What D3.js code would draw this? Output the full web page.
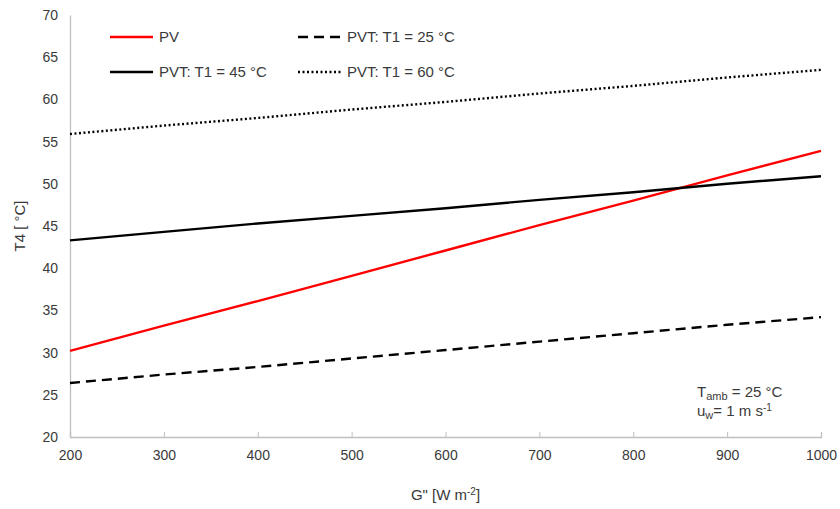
<!DOCTYPE html>
<html>
<head>
<meta charset="utf-8">
<script src="https://cdn.jsdelivr.net/npm/d3@7"></script>
<style>
  body { margin: 0; background: #fff; }
  svg text { font-family: "Liberation Sans", Arial, sans-serif; fill: #3a3a3a; }
</style>
</head>
<body>
<div id="chart"></div>
<script>
// data
const irradiance = [200, 300, 400, 500, 600, 700, 800, 900, 1000];
const pv = [30.2, 33.2, 36.1, 39.1, 42.1, 45.1, 48.0, 51.0, 53.9];
const pvt25 = [26.4, 27.4, 28.3, 29.3, 30.3, 31.3, 32.3, 33.3, 34.2];
const pvt45 = [43.3, 44.3, 45.3, 46.2, 47.1, 48.1, 49.0, 50.0, 50.9];
const pvt60 = [55.9, 56.9, 57.8, 58.8, 59.7, 60.7, 61.6, 62.6, 63.5];
const xTicks = [200, 300, 400, 500, 600, 700, 800, 900, 1000];
const yTicks = [20, 25, 30, 35, 40, 45, 50, 55, 60, 65, 70];

const series = [
  { name: 'PV', values: pv, color: '#ff0000', dash: null },
  { name: 'PVT: T1 = 25 °C', values: pvt25, color: '#000', dash: '10,6' },
  { name: 'PVT: T1 = 45 °C', values: pvt45, color: '#000', dash: null },
  { name: 'PVT: T1 = 60 °C', values: pvt60, color: '#000', dash: '2,2.5' },
];

const width = 840, height = 509;
const margin = { top: 15, right: 19, bottom: 72, left: 70 };
const innerW = width - margin.left - margin.right;
const innerH = height - margin.top - margin.bottom;

const svg = d3.select('#chart').append('svg')
  .attr('width', width)
  .attr('height', height);

const chart = svg.append('g')
  .attr('transform', `translate(${margin.left},${margin.top})`);

const xScale = d3.scaleLinear().domain([200, 1000]).range([0, innerW]);
const yScale = d3.scaleLinear().domain([20, 70]).range([innerH, 0]);

// axes
const xAxis = d3.axisBottom(xScale).tickValues(xTicks).tickFormat(d3.format('d'))
  .tickSize(-5).tickPadding(13);
const yAxis = d3.axisLeft(yScale).tickValues(yTicks).tickSize(0).tickPadding(12);

const xAxisGroup = chart.append('g')
  .attr('transform', `translate(0,${innerH})`)
  .call(xAxis);
const yAxisGroup = chart.append('g').call(yAxis);

[xAxisGroup, yAxisGroup].forEach(g => {
  g.select('.domain').attr('stroke', '#bfbfbf').attr('stroke-width', 1.3);
  g.selectAll('.tick line').attr('stroke', '#bfbfbf');
  g.selectAll('.tick text').style('font-size', '14px').attr('fill', '#3a3a3a');
});

// lines
const lineFunc = d3.line()
  .x((d, i) => xScale(irradiance[i]))
  .y(d => yScale(d));

chart.selectAll('.series-line')
    .data(series)
  .join('path')
    .attr('class', 'series-line')
    .attr('fill', 'none')
    .attr('stroke', d => d.color)
    .attr('stroke-width', 2.4)
    .attr('stroke-dasharray', d => d.dash)
    .attr('d', d => lineFunc(d.values));

// legend
const legendPos = [[110, 37], [298, 37], [110, 72], [298, 72]];
const legend = svg.selectAll('.legend-item')
    .data(series)
  .join('g')
    .attr('class', 'legend-item')
    .attr('transform', (d, i) => `translate(${legendPos[i][0]},${legendPos[i][1]})`);

legend.append('line')
  .attr('x1', 0).attr('x2', 43)
  .attr('stroke', d => d.color)
  .attr('stroke-width', 2.4)
  .attr('stroke-dasharray', d => d.dash);

legend.append('text')
  .attr('x', 49)
  .attr('dy', '0.35em')
  .style('font-size', '15px')
  .text(d => d.name);

// axis titles
svg.append('text')
  .attr('transform', `translate(25,${margin.top + innerH / 2}) rotate(-90)`)
  .attr('text-anchor', 'middle')
  .style('font-size', '15px')
  .text('T4 [ °C]');

const xTitle = svg.append('text')
  .attr('x', margin.left + innerW / 2)
  .attr('y', 500)
  .attr('text-anchor', 'middle')
  .style('font-size', '15px');
xTitle.append('tspan').text('G" [W m');
xTitle.append('tspan').attr('dy', -5).style('font-size', '10px').text('-2');
xTitle.append('tspan').attr('dy', 5).text(']');

// conditions note
const note1 = svg.append('text').attr('x', 697).attr('y', 397).style('font-size', '15px');
note1.append('tspan').text('T');
note1.append('tspan').attr('dy', 3).style('font-size', '11px').text('amb');
note1.append('tspan').attr('dy', -3).text(' = 25  °C');

const note2 = svg.append('text').attr('x', 697).attr('y', 416).style('font-size', '15px');
note2.append('tspan').text('u');
note2.append('tspan').attr('dy', 3).style('font-size', '11px').text('w');
note2.append('tspan').attr('dy', -3).text('= 1 m s');
note2.append('tspan').attr('dy', -5).style('font-size', '10px').text('-1');
</script>
</body>
</html>
